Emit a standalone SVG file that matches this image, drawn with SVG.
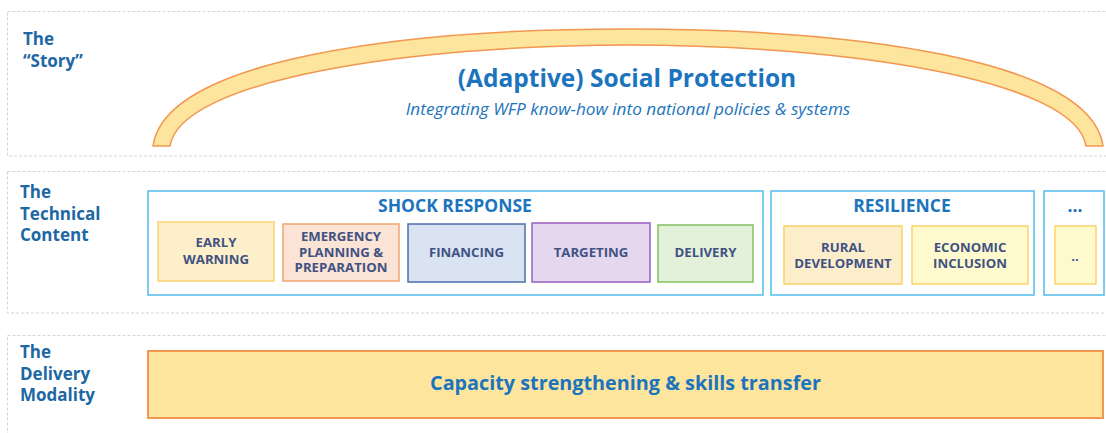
<svg xmlns="http://www.w3.org/2000/svg" width="1106" height="433" viewBox="0 0 1106 433">
  <style>
    .panel { fill: none; stroke: #d4d4d4; stroke-width: 1; stroke-dasharray: 3 2; }
    .side { font-family: "Open Sans", "Noto Sans", sans-serif; font-weight: 700; font-size: 17px; fill: #1d67a3; }
    .group { fill: #ffffff; stroke: #5cc1ee; stroke-width: 1.6; }
    .ghead { font-family: "Open Sans", "Noto Sans", sans-serif; font-weight: 700; font-size: 17.5px; fill: #1b74bd; text-anchor: middle; }
    .item { font-family: "Open Sans", "Noto Sans", sans-serif; font-weight: 700; font-size: 13.2px; fill: #3f5283; text-anchor: middle; }
    .band { fill: #fde59d; stroke: #f29650; stroke-width: 1.5; }
    .title { font-family: "Open Sans", "Noto Sans", sans-serif; font-weight: 700; font-size: 24.5px; fill: #1b74bd; text-anchor: middle; }
    .sub { font-family: "Open Sans", "Noto Sans", sans-serif; font-style: italic; font-size: 17.2px; fill: #1b74bd; text-anchor: middle; }
    .bar { font-family: "Open Sans", "Noto Sans", sans-serif; font-weight: 700; font-size: 19.8px; fill: #1b74bd; text-anchor: middle; }
  </style>

  <rect width="1106" height="433" fill="#ffffff"/>

  <!-- row frames -->
  <g id="rows">
    <rect class="panel" x="7.5" y="11.5" width="1110" height="144.5"/>
    <rect class="panel" x="7.5" y="171.5" width="1110" height="141.5"/>
    <rect class="panel" x="7.5" y="335.5" width="1110" height="110"/>
  </g>

  <!-- row labels -->
  <g id="label-story">
    <text class="side" x="23" y="45">The</text>
    <text class="side" x="23" y="67">“Story”</text>
  </g>
  <g id="label-technical">
    <text class="side" x="20" y="198">The</text>
    <text class="side" x="20" y="220">Technical</text>
    <text class="side" x="20" y="241">Content</text>
  </g>
  <g id="label-delivery">
    <text class="side" x="20" y="358">The</text>
    <text class="side" x="20" y="380">Delivery</text>
    <text class="side" x="20" y="401">Modality</text>
  </g>

  <!-- arch over the story row -->
  <g id="story">
    <path class="band" d="M153,146 C165,60 400,29 628,29 C856,29 1091,60 1103,146 L1086,146 C1076,80 846,45 628,45 C410,45 180,80 170,146 Z"/>
    <text class="title" x="627" y="87">(Adaptive) Social Protection</text>
    <text class="sub" x="628" y="115">Integrating WFP know-how into national policies &amp; systems</text>
  </g>

  <!-- shock response -->
  <g id="shock-response">
    <rect class="group" x="148" y="191" width="615" height="104"/>
    <text class="ghead" x="455" y="212">SHOCK RESPONSE</text>
  </g>
  <g id="early-warning">
    <rect x="158" y="222" width="116" height="59" fill="#fdefc9" stroke="#fcd270" stroke-width="1.5"/>
    <text class="item" x="216" y="247">EARLY</text>
    <text class="item" x="216" y="264">WARNING</text>
  </g>
  <g id="emergency-planning">
    <rect x="283" y="224" width="116" height="57" fill="#fbe3d5" stroke="#f0a473" stroke-width="1.5"/>
    <text class="item" x="341" y="241">EMERGENCY</text>
    <text class="item" x="341" y="256.5">PLANNING &amp;</text>
    <text class="item" x="341" y="272">PREPARATION</text>
  </g>
  <g id="financing">
    <rect x="408" y="224" width="117" height="58" fill="#dae3f2" stroke="#4d6ea9" stroke-width="1.5"/>
    <text class="item" x="466.5" y="257">FINANCING</text>
  </g>
  <g id="targeting">
    <rect x="532" y="223" width="118" height="59" fill="#e5d8ee" stroke="#9a5fc0" stroke-width="1.5"/>
    <text class="item" x="591" y="257">TARGETING</text>
  </g>
  <g id="delivery">
    <rect x="658" y="225" width="95" height="57" fill="#e3f0da" stroke="#85c061" stroke-width="1.5"/>
    <text class="item" x="705.5" y="257">DELIVERY</text>
  </g>

  <!-- resilience -->
  <g id="resilience">
    <rect class="group" x="771" y="191" width="263" height="104"/>
    <text class="ghead" x="902" y="212">RESILIENCE</text>
  </g>
  <g id="rural-development">
    <rect x="784" y="226" width="118" height="58" fill="#fdeecb" stroke="#fbd06a" stroke-width="1.5"/>
    <text class="item" x="843" y="252">RURAL</text>
    <text class="item" x="843" y="267.5">DEVELOPMENT</text>
  </g>
  <g id="economic-inclusion">
    <rect x="912" y="226" width="116" height="58" fill="#fefacd" stroke="#fbd36a" stroke-width="1.5"/>
    <text class="item" x="970" y="252">ECONOMIC</text>
    <text class="item" x="970" y="267.5">INCLUSION</text>
  </g>

  <!-- further areas -->
  <g id="more">
    <rect class="group" x="1044" y="191" width="60" height="104"/>
    <text class="ghead" x="1075" y="212">...</text>
  </g>
  <g id="more-item">
    <rect x="1055" y="226" width="41" height="58" fill="#fefacd" stroke="#fbd36a" stroke-width="1.5"/>
    <text class="item" x="1075" y="261">..</text>
  </g>

  <!-- delivery modality -->
  <g id="capacity">
    <rect x="148" y="351" width="955" height="67" fill="#fde59d" stroke="#f29650" stroke-width="2"/>
    <text class="bar" x="625.5" y="390">Capacity strengthening &amp; skills transfer</text>
  </g>
</svg>
